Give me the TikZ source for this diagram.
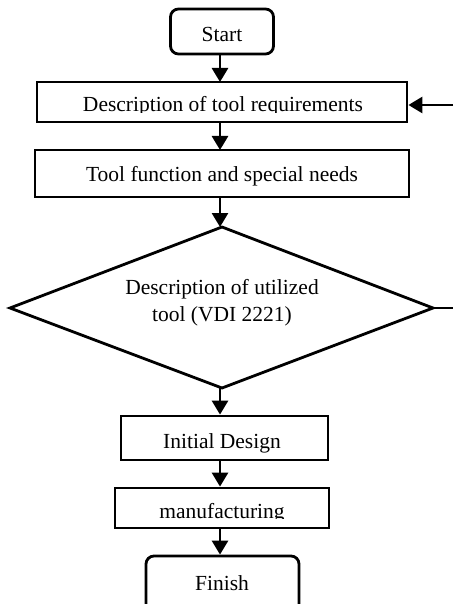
\documentclass[tikz,border=0pt]{standalone}
\usepackage{fontspec}
\setmainfont{Liberation Serif}
\usetikzlibrary{arrows.meta}
\begin{document}
\begin{tikzpicture}[x=1pt,y=-1pt,
  box/.style={draw,line width=2.8pt,inner sep=0pt},
  rbox/.style={box,rounded corners=8pt},
  txt/.style={font=\fontsize{21.5}{25}\selectfont,inner sep=0pt,anchor=base},
  arr/.style={line width=2.8pt,-{Triangle[length=14pt,width=16pt]}},
  ln/.style={line width=2.8pt}]
\clip (0,0) rectangle (453,604);
% boxes
\node[rbox,minimum width=103pt,minimum height=45pt] (start) at (222,31.5) {};
\node[txt] (starttxt) at (222,42) {Start};

\node[box,minimum width=370pt,minimum height=40pt] (desc) at (222,102) {};
\begin{scope}
\clip (38,83) rectangle (406,112.6);
\node[txt] (desctxt) at (223,112) {Description of tool requirements};
\end{scope}

\node[box,minimum width=374pt,minimum height=47pt] (tool) at (222,173.5) {};
\node[txt] (tooltxt) at (222,182) {Tool function and special needs};

\coordinate (dt) at (222,227);
\coordinate (dr) at (433,308);
\coordinate (db) at (222,388);
\coordinate (dl) at (10,308);
\draw[ln,line join=miter] (dt) -- (dr) -- (db) -- (dl) -- cycle;
\node[txt] (dtxt1) at (222,294.5) {Description of utilized};
\node[txt] (dtxt2) at (222,321.5) {tool (VDI 2221)};

\node[box,minimum width=207pt,minimum height=44pt] (init) at (224.5,438) {};
\node[txt] (inittxt) at (222,448) {Initial Design};

\node[box,minimum width=214pt,minimum height=40pt] (manuf) at (222,508) {};
\begin{scope}
\clip (116,489) rectangle (328,518.6);
\node[txt] (manuftxt) at (222,518) {manufacturing};
\end{scope}

\node[rbox,minimum width=153pt,minimum height=60pt] (finish) at (222.5,586) {};
\node[txt] (finishtxt) at (222,590) {Finish};

% right side free ends
\coordinate (inR) at (453,105);
\coordinate (outR) at (453,308);

% connectors
\draw[arr] (start.south -| 220,0) -- (220,82);
\draw[arr] (220,122) -- (220,150);
\draw[arr] (220,197) -- (dt -| 220,0);
\draw[arr] (220,388) -- (init.north -| 220,0);
\draw[arr] (init.south -| 220,0) -- (manuf.north -| 220,0);
\draw[arr] (manuf.south -| 220,0) -- (finish.north -| 220,0);
\draw[arr] (inR) -- (inR -| desc.east);
\draw[ln] (dr) -- (outR);
\end{tikzpicture}
\end{document}
